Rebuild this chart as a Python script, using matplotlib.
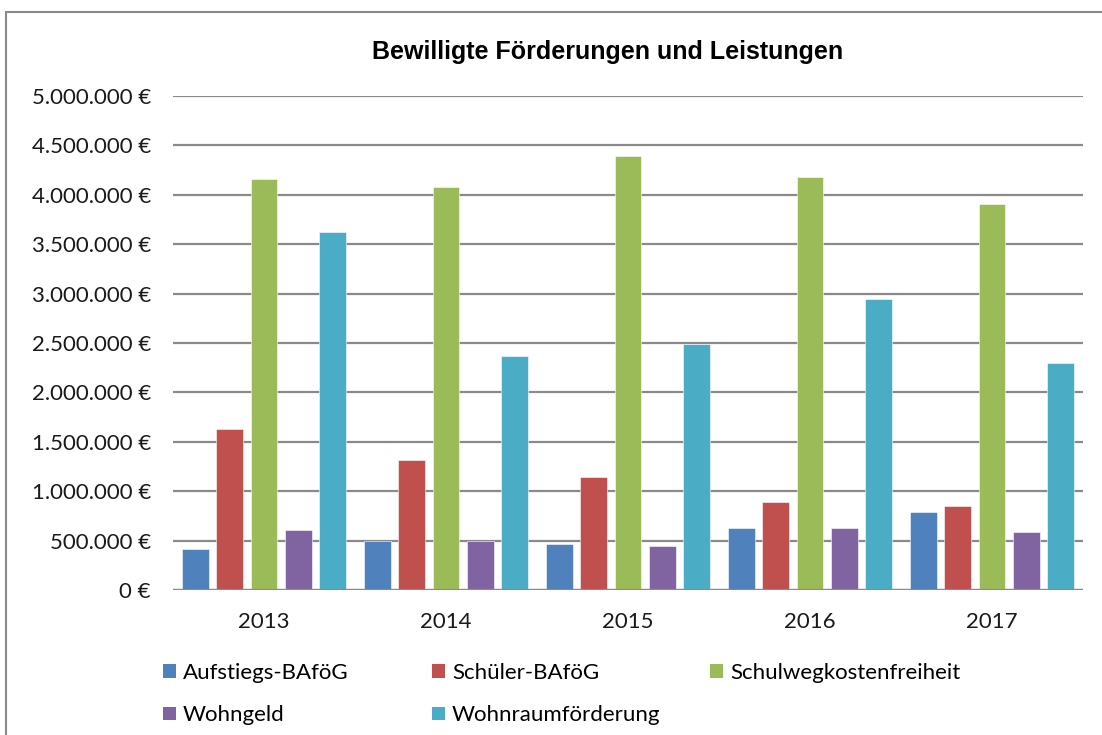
import matplotlib
matplotlib.use("Agg")
import matplotlib.pyplot as plt
import numpy as np
from matplotlib.patches import Patch, Rectangle
from matplotlib.ticker import FuncFormatter, MultipleLocator

years = ["2013", "2014", "2015", "2016", "2017"]
series_names = ["Aufstiegs-BAföG", "Schüler-BAföG", "Schulwegkostenfreiheit", "Wohngeld", "Wohnraumförderung"]
aufstiegs = [412000, 496000, 462000, 631000, 786000]
schueler = [1630000, 1316000, 1144000, 894000, 847000]
schulweg = [4160000, 4079000, 4390000, 4180000, 3910000]
wohngeld = [607000, 496000, 449000, 631000, 584000]
wohnraum = [3627000, 2371000, 2490000, 2942000, 2294000]
colors = ["#4F81BD", "#C0504D", "#9BBB59", "#8064A2", "#4BACC6"]

data = [aufstiegs, schueler, schulweg, wohngeld, wohnraum]

W, H = 1102, 735
FS = 16
fig = plt.figure(figsize=(W / 100, H / 100), dpi=100)
ax = fig.add_axes([173 / W, 1 - 590 / H, (1083 - 173) / W, (590 - 96) / H])

x = np.arange(len(years))
pitch = 0.187
bw = 0.148
for i, (vals, c) in enumerate(zip(data, colors)):
    ax.bar(x + (i - 2) * pitch, vals, width=bw, color=c, zorder=3,
           edgecolor="white", linewidth=0.4)

ax.set_xlim(-0.5, 4.5)
ax.set_ylim(0, 5000000)
ax.yaxis.set_major_locator(MultipleLocator(500000))
ax.yaxis.set_major_formatter(FuncFormatter(lambda v, p: f"{int(v):,}".replace(",", ".") + " €"))
ax.set_xticks(x)
ax.set_xticklabels(years)
ax.grid(axis="y", color="#8a8a8a", linewidth=1.6, zorder=0)
for s in ax.spines.values():
    s.set_visible(False)
ax.axhline(0, color="#8a8a8a", linewidth=1.6, zorder=4)
ax.tick_params(axis="both", length=0, labelsize=FS, colors="#1a1a1a")
ax.tick_params(axis="y", pad=16)
ax.tick_params(axis="x", pad=16)
for lab in ax.get_xticklabels() + ax.get_yticklabels():
    lab.set_family(["Lato", "DejaVu Sans"])

fig.text(608 / W, 1 - 52 / H, "Bewilligte Förderungen und Leistungen", ha="center", va="center",
         fontsize=18, fontweight="bold", family=["Liberation Sans", "DejaVu Sans"])

# legend in three equally spaced columns
handles = [Patch(facecolor=c, edgecolor="none") for c in colors]
cols = [[0, 3], [1, 4], [2]]
col_x = [154, 423, 701]
for cx, idx in zip(col_x, cols):
    fig.legend([handles[i] for i in idx], [series_names[i] for i in idx],
               loc="upper left", bbox_to_anchor=(cx / W, 1 - 654 / H),
               frameon=False, handlelength=0.6, handleheight=0.55, handletextpad=0.3,
               labelspacing=1.0, borderpad=0.4, borderaxespad=0,
               prop={"family": "Lato", "size": FS})

fig.add_artist(Rectangle((6 / W, -0.1), 1.2, 1.1 - 12 / H, transform=fig.transFigure,
                         fill=False, edgecolor="#8a8a8a", linewidth=1.5))

fig.savefig("out.png", dpi=100, facecolor="white")
